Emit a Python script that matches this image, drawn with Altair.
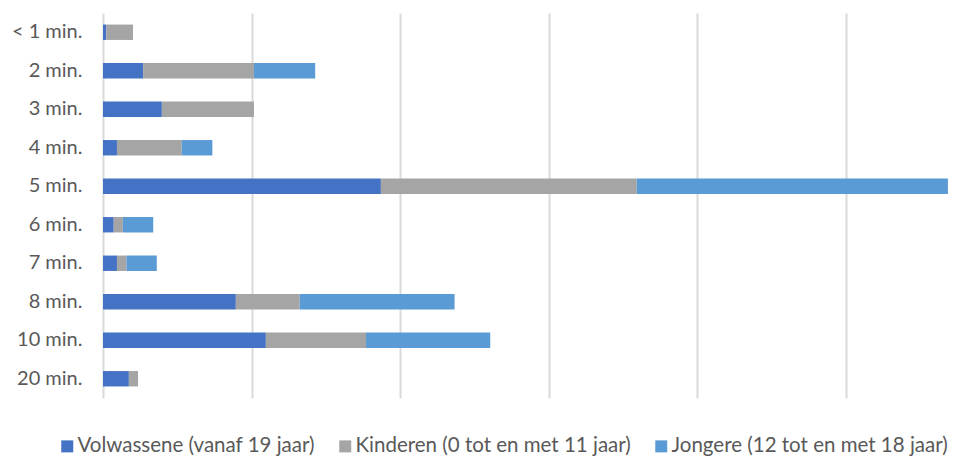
import altair as alt
import pandas as pd

categories = ["< 1 min.", "2 min.", "3 min.", "4 min.", "5 min.", "6 min.",
              "7 min.", "8 min.", "10 min.", "20 min."]
series = ["Volwassene (vanaf 19 jaar)", "Kinderen (0 tot en met 11 jaar)",
          "Jongere (12 tot en met 18 jaar)"]
volwassene = [0.11, 1.35, 1.98, 0.47, 9.35, 0.36, 0.47, 4.47, 5.48, 0.87]
kinderen = [0.90, 3.73, 3.10, 2.18, 8.61, 0.31, 0.32, 2.15, 3.37, 0.31]
jongere = [0.0, 2.06, 0.0, 1.03, 10.47, 1.02, 1.02, 5.21, 4.18, 0.0]
colors = ["#4472C4", "#A5A5A5", "#5B9BD5"]
grid_values = [0, 5, 10, 15, 20, 25]

rows = []
for i, c in enumerate(categories):
    for k, vals in enumerate([volwassene, kinderen, jongere]):
        rows.append({"cat": c, "serie": series[k], "ord": k, "value": vals[i]})
df = pd.DataFrame(rows)

font = "Lato"
txt = "#595959"

chart = alt.Chart(df).mark_bar().encode(
    x=alt.X("value:Q", stack="zero",
            scale=alt.Scale(domain=[0, 28.5], nice=False, zero=True),
            axis=alt.Axis(values=grid_values, labels=False, ticks=False, domain=False,
                          grid=True, gridColor="#d9d9d9", gridWidth=2, title=None)),
    y=alt.Y("cat:N", sort=categories,
            scale=alt.Scale(paddingInner=0.6, paddingOuter=0.3),
            axis=alt.Axis(title=None, ticks=False, domain=False, labelFont=font,
                          labelFontSize=20, labelColor=txt, labelPadding=21)),
    color=alt.Color("serie:N",
                    scale=alt.Scale(domain=series, range=colors),
                    legend=alt.Legend(orient="none", legendX=-46, legendY=423,
                                      direction="horizontal", title=None,
                                      symbolType="square", symbolSize=144,
                                      symbolStrokeWidth=0, labelFont=font,
                                      labelFontSize=20.5, labelColor=txt,
                                      labelOffset=0, columnPadding=20,
                                      labelLimit=500)),
    order=alt.Order("ord:Q"),
).properties(
    width=847, height=385,
    background="white",
    autosize=alt.AutoSizeParams(type="none"),
    padding={"left": 95, "top": 5, "right": 2, "bottom": 58},
).configure_view(stroke=None)

chart.save("out.html", embed_options={"renderer": "svg", "actions": False})
